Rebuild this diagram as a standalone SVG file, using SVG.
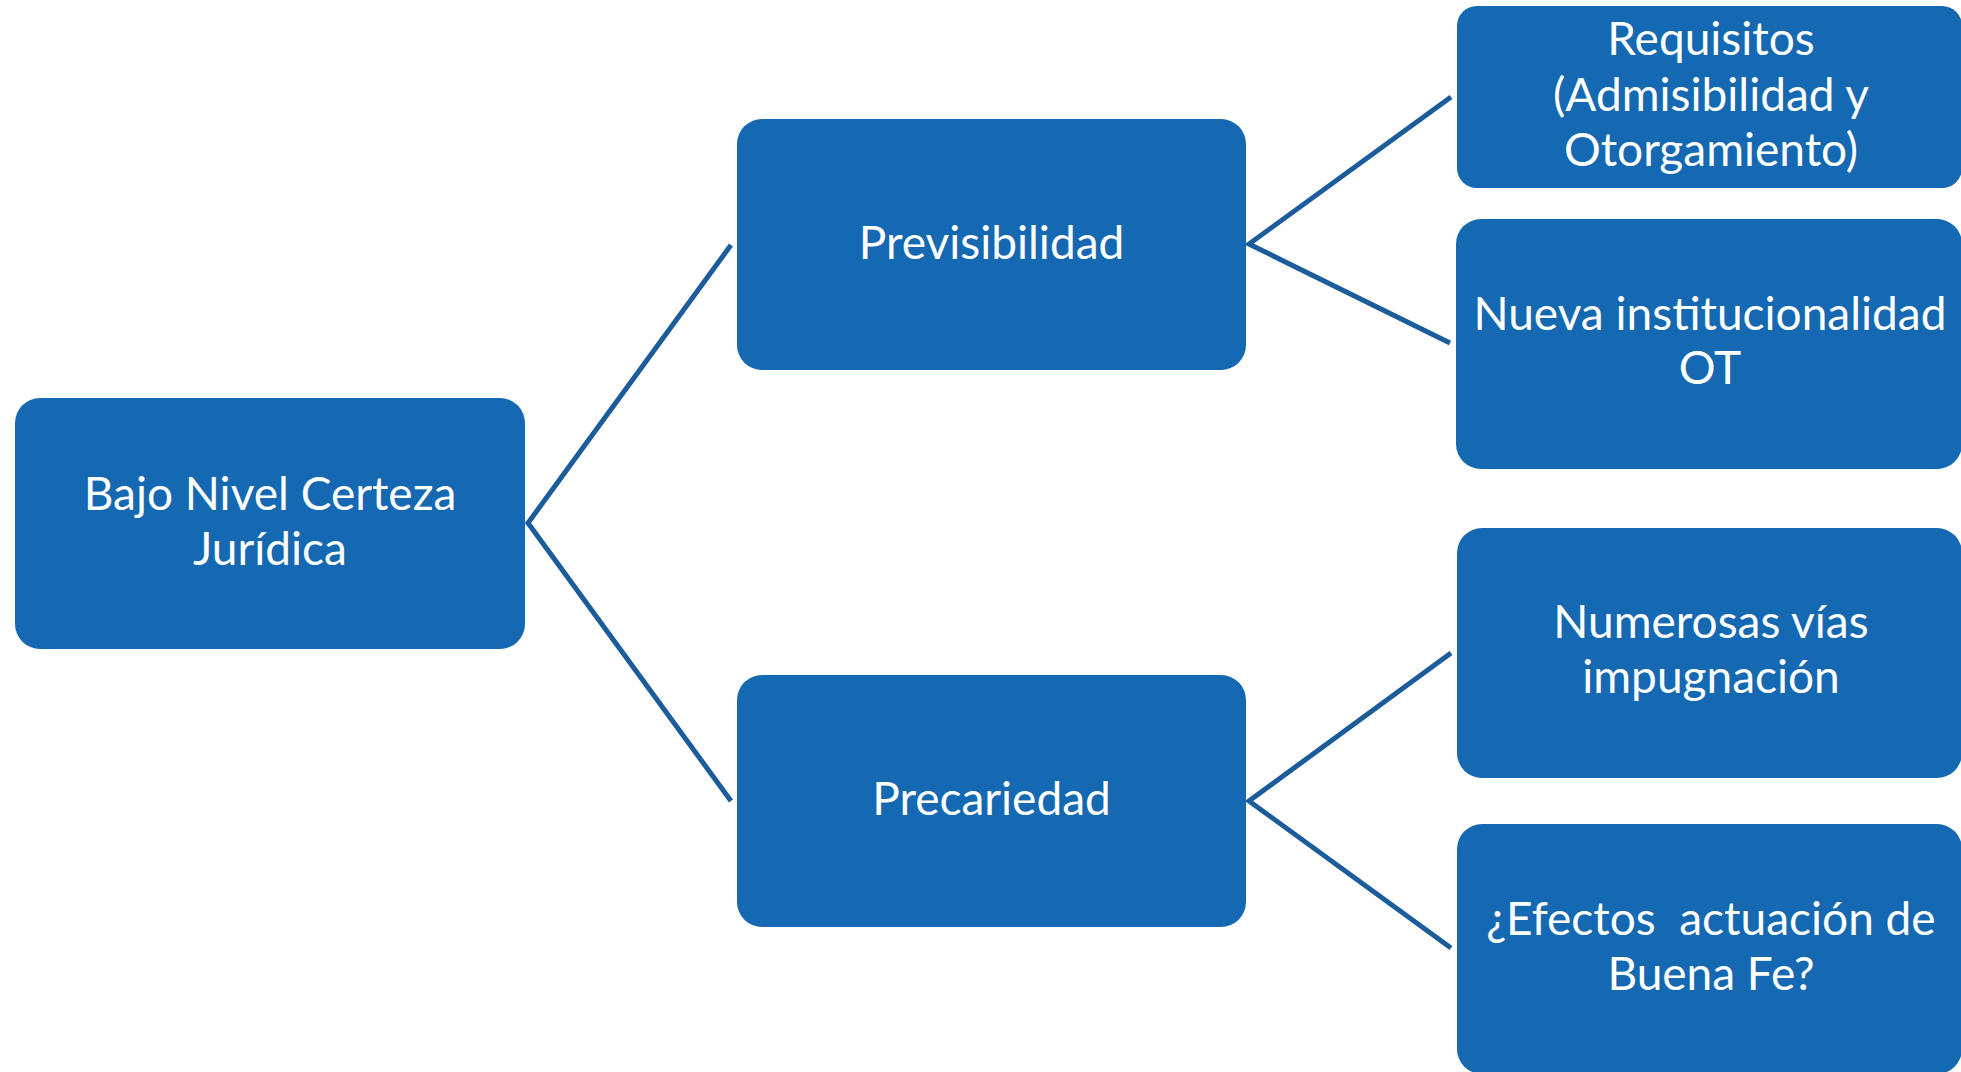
<svg xmlns="http://www.w3.org/2000/svg" width="1961" height="1072" viewBox="0 0 1961 1072">
<style>
.box{fill:#1568B2;}
.lbl{fill:#ffffff;font-family:Lato,"Open Sans",sans-serif;font-size:46px;text-anchor:middle;}
.con{stroke:#1B5C9B;stroke-width:5;fill:none;stroke-linejoin:miter;}
</style>
<rect width="1961" height="1072" fill="#ffffff"/>
<g id="connectors">
<polyline class="con" points="731,245 528,523 731,801"/>
<polyline class="con" points="1451,97 1249,244 1450,343"/>
<polyline class="con" points="1451,653 1249,801 1451,948"/>
</g>
<g id="root">
<rect class="box" x="15" y="398" width="510" height="251" rx="25"/>
<text class="lbl" x="270" y="510">Bajo Nivel Certeza</text>
<text class="lbl" x="270" y="565">Jurídica</text>
</g>
<g id="previsibilidad">
<rect class="box" x="737" y="119" width="509" height="251" rx="25"/>
<text class="lbl" x="991.5" y="259">Previsibilidad</text>
</g>
<g id="precariedad">
<rect class="box" x="737" y="675" width="509" height="252" rx="25"/>
<text class="lbl" x="991.5" y="815">Precariedad</text>
</g>
<g id="requisitos">
<rect class="box" x="1457" y="6" width="505" height="182" rx="20"/>
<text class="lbl" x="1711" y="55">Requisitos</text>
<text class="lbl" x="1711" y="111">(Admisibilidad y</text>
<text class="lbl" x="1711" y="166">Otorgamiento)</text>
</g>
<g id="nueva">
<rect class="box" x="1456" y="219" width="506" height="250" rx="25"/>
<text class="lbl" x="1710" y="330">Nueva institucionalidad</text>
<text class="lbl" x="1710" y="384">OT</text>
</g>
<g id="numerosas">
<rect class="box" x="1457" y="528" width="505" height="250" rx="25"/>
<text class="lbl" x="1711" y="638">Numerosas vías</text>
<text class="lbl" x="1711" y="693">impugnación</text>
</g>
<g id="efectos">
<rect class="box" x="1457" y="824" width="505" height="250" rx="25"/>
<text class="lbl" x="1711" y="935" xml:space="preserve">¿Efectos  actuación de</text>
<text class="lbl" x="1711" y="990">Buena Fe?</text>
</g>
</svg>
